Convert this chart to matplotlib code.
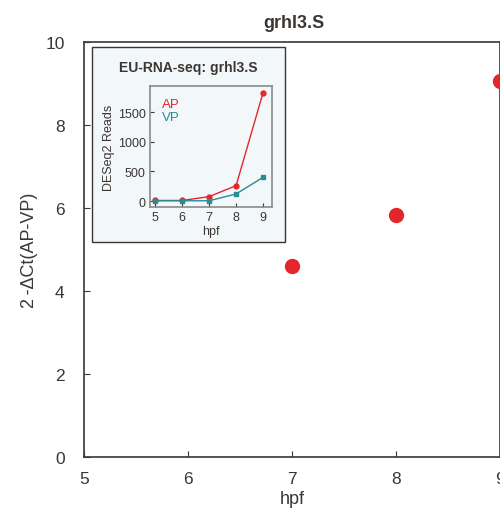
import matplotlib
matplotlib.use("Agg")
import matplotlib.pyplot as plt
from matplotlib.patches import Rectangle

# qPCR: 2^-dCt (AP-VP)
hpf = [7, 8, 9]
ratio = [4.6, 5.82, 9.05]

# EU-RNA-seq inset
seq_hpf = [5, 6, 7, 8, 9]
ap_reads = [10, 10, 75, 260, 1830]
vp_reads = [5, 5, 5, 120, 400]

RED = "#e3262b"
TEAL = "#2a8b94"
DARK = "#3b3632"

plt.rcParams["font.family"] = ["Liberation Sans", "DejaVu Sans"]

fig = plt.figure(figsize=(5.0, 5.1), dpi=100)
ax = fig.add_axes([0.168, 0.102, 0.832, 0.8137])
ax.plot(hpf, ratio, "o", color=RED, markersize=10, clip_on=False, zorder=5)
ax.set_xlim(5, 9)
ax.set_ylim(0, 10)
ax.set_xticks([5, 6, 7, 8, 9])
ax.set_yticks([0, 2, 4, 6, 8, 10])
ax.tick_params(direction="in", length=4, labelsize=12.5, colors=DARK, pad=10)
ax.tick_params(axis="y", pad=14)
for s in ax.spines.values():
    s.set_color(DARK)
    s.set_linewidth(1.2)
ax.set_xlabel("hpf", fontsize=13, color=DARK, labelpad=3)
ax.set_ylabel("2\u2009-ΔCt(AP-VP)", fontsize=13, color=DARK, labelpad=5)
fig.text(0.588, 0.953, "grhl3.S", ha="center", va="center", fontsize=13,
         fontweight="bold", color=DARK)

# inset frame
fig.patches.append(Rectangle((92 / 500, 1 - 243 / 510), 193 / 500, 195 / 510,
                             transform=fig.transFigure, facecolor="#f2f8fa",
                             edgecolor=DARK, linewidth=1.0, zorder=3))
fig.text(188 / 500, 1 - 68 / 510, "EU-RNA-seq: grhl3.S", ha="center", va="center",
         fontsize=10, fontweight="bold", color=DARK, zorder=4)

ins = fig.add_axes([150 / 500, 1 - 208 / 510, 122 / 500, 121 / 510], zorder=4)
ins.set_facecolor("#f2f8fa")
ins.plot(seq_hpf, ap_reads, "-o", color=RED, markersize=3.5, linewidth=1)
ins.plot(seq_hpf, vp_reads, "-s", color=TEAL, markersize=3.5, linewidth=1)
ins.set_xlim(4.81, 9.33)
ins.set_ylim(-100, 1940)
ins.set_xticks(seq_hpf)
ins.set_yticks([0, 500, 1000, 1500])
ins.tick_params(direction="in", length=3, labelsize=9, colors=DARK, pad=3)
for s in ins.spines.values():
    s.set_color("#8a8a8a")
    s.set_linewidth(1.2)
ins.set_xlabel("hpf", fontsize=9, color=DARK, labelpad=1)
ins.set_ylabel("DESeq2 Reads", fontsize=9, color=DARK, labelpad=2)
ins.text(0.1, 0.83, "AP", transform=ins.transAxes, color=RED, fontsize=9.5)
ins.text(0.1, 0.72, "VP", transform=ins.transAxes, color=TEAL, fontsize=9.5)

fig.savefig("out.png", dpi=100)
